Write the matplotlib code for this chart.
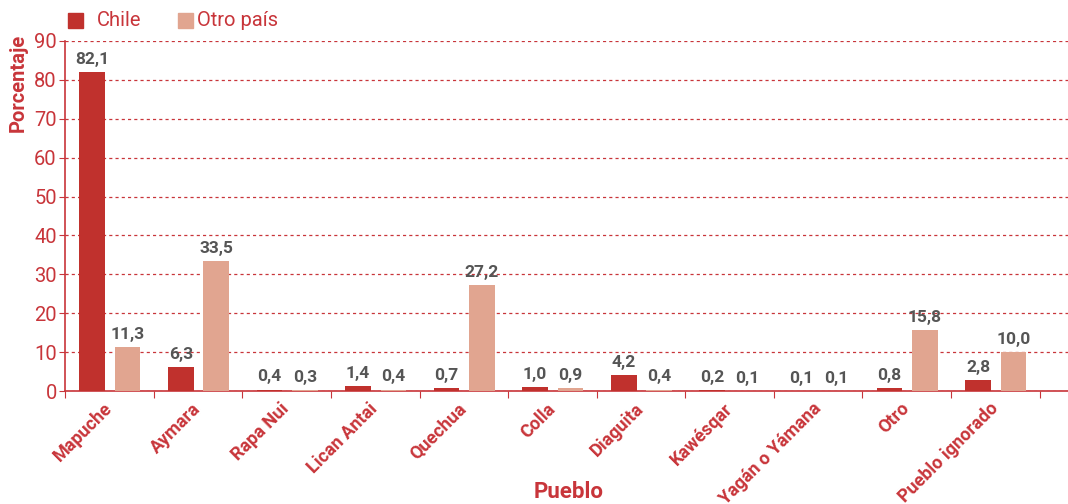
import numpy as np
import matplotlib.pyplot as plt
from matplotlib.patches import Rectangle

## datos del grafico
pueblos = ['Mapuche', 'Aymara', 'Rapa Nui', 'Lican Antai', 'Quechua', 'Colla',
           'Diaguita', 'Kawésqar', 'Yagán o Yámana', 'Otro', 'Pueblo ignorado']
chile = [82.1, 6.3, 0.4, 1.4, 0.7, 1.0, 4.2, 0.2, 0.1, 0.8, 2.8]
otro_pais = [11.3, 33.5, 0.3, 0.4, 27.2, 0.9, 0.4, 0.1, 0.1, 15.8, 10.0]
yticks = [0, 10, 20, 30, 40, 50, 60, 70, 80, 90]

rojo = '#c0312d'
salmon = '#e1a590'
texto_rojo = '#c8353a'
gris = '#555555'

plt.rcParams['font.family'] = ['Roboto', 'DejaVu Sans']

fig = plt.figure(figsize=(10.68, 5.04), dpi=100)
ax = fig.add_axes([0.061, 0.224, 0.939, 0.695])

x = np.arange(len(pueblos))
w = 0.29
ax.bar(x - 0.195, chile, w, color=rojo, zorder=3)
ax.bar(x + 0.205, otro_pais, w, color=salmon, zorder=3)

##etiquetas de valor con coma decimal
for xi, v in zip(x - 0.195, chile):
    ax.text(xi, v + 1.3, f'{v:.1f}'.replace('.', ','), ha='center', va='bottom',
            fontsize=12.5, fontweight='bold', color=gris)
for xi, v in zip(x + 0.205, otro_pais):
    ax.text(xi, v + 1.3, f'{v:.1f}'.replace('.', ','), ha='center', va='bottom',
            fontsize=12.5, fontweight='bold', color=gris)

ax.set_ylim(0, 90)
ax.set_xlim(-0.5, 10.82)
ax.set_yticks(yticks)
ax.set_yticklabels([str(t) for t in yticks], fontsize=14.5, color=texto_rojo)
ax.yaxis.grid(True, linestyle=(0, (2.5, 2.5)), color=texto_rojo, linewidth=0.9, zorder=0)
ax.tick_params(axis='y', length=4, color=texto_rojo, pad=2)

##ticks entre grupos y etiquetas rotadas
ax.set_xticks(np.arange(len(pueblos) + 1) - 0.5)
ax.set_xticklabels([])
ax.tick_params(axis='x', length=5, color=texto_rojo, direction='out')
for xi, nombre in zip(x, pueblos):
    ax.text(xi + 0.0, -3.8, nombre, rotation=45, ha='right', va='center',
            rotation_mode='anchor', fontsize=13, fontweight='bold', color=texto_rojo)

for s in ['top', 'right']:
    ax.spines[s].set_visible(False)
for s in ['left', 'bottom']:
    ax.spines[s].set_color(texto_rojo)
    ax.spines[s].set_linewidth(1.2)

fig.text(0.017, 0.835, 'Porcentaje', rotation=90, ha='center', va='center',
         fontsize=14.5, fontweight='bold', color=texto_rojo)
fig.text(0.532, 0.024, 'Pueblo', ha='center', va='center',
         fontsize=16, fontweight='bold', color=texto_rojo)

##leyenda manual arriba a la izquierda
fig.patches.append(Rectangle((68 / 1068, 1 - 28 / 504), 15 / 1068, 15 / 504,
                             transform=fig.transFigure, color=rojo))
fig.text(97 / 1068, 1 - 21 / 504, 'Chile', ha='left', va='center', fontsize=14.5, color=texto_rojo)
fig.patches.append(Rectangle((178 / 1068, 1 - 28 / 504), 15 / 1068, 15 / 504,
                             transform=fig.transFigure, color=salmon))
fig.text(197 / 1068, 1 - 21 / 504, 'Otro país', ha='left', va='center', fontsize=14.5, color=texto_rojo)

fig.savefig('out.png', dpi=100)
